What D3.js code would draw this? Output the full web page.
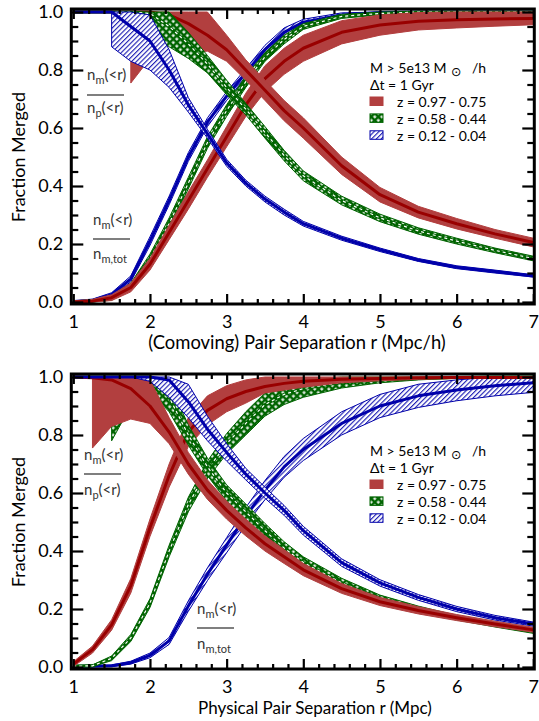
<!DOCTYPE html>
<meta charset="utf-8">
<style>
    body { margin: 0; background: #fff; }
    text { font-family: Lato, "Open Sans", sans-serif; }
    .axis path, .axis line { fill: none; stroke: #000; }
</style>
<body>
<script src="https://d3js.org/d3.v7.min.js"></script>
<script>

    // separation grid (Mpc/h comoving on top, Mpc physical below)
    var r = [1, 1.25, 1.5, 1.75, 2, 2.25, 2.5, 2.75, 3, 3.25, 3.5, 3.75, 4, 4.5, 5, 5.5, 6, 6.5, 7];

    var xTickLabels = ["1", "2", "3", "4", "5", "6", "7"];
    var yTickLabels = ["0.0", "0.2", "0.4", "0.6", "0.8", "1.0"];
    var legendLabels = ["z = 0.97 - 0.75", "z = 0.58 - 0.44", "z = 0.12 - 0.04"];

    // comoving, n_m(<r)/n_m,tot
    var comBlueCum    = [0, 0.005, 0.025, 0.08, 0.21, 0.35, 0.50, 0.62, 0.71, 0.79, 0.87, 0.93, 0.965, 0.99, 0.998, 1, 1, 1, 1];
    var comBlueCumLo  = [0, 0, 0.018, 0.07, 0.195, 0.335, 0.485, 0.605, 0.695, 0.775, 0.855, 0.915, 0.955, 0.985, 0.995, 0.998, 1, 1, 1];
    var comBlueCumHi  = [0.005, 0.01, 0.032, 0.09, 0.225, 0.365, 0.515, 0.635, 0.725, 0.805, 0.885, 0.945, 0.975, 0.997, 1, 1, 1, 1, 1];
    var comGreenCum   = [0, 0.003, 0.012, 0.055, 0.15, 0.27, 0.41, 0.55, 0.66, 0.76, 0.845, 0.905, 0.95, 0.985, 0.995, 1, 1, 1, 1];
    var comGreenCumLo = [0, 0, 0.006, 0.045, 0.135, 0.25, 0.39, 0.53, 0.64, 0.74, 0.83, 0.89, 0.94, 0.978, 0.99, 0.997, 1, 1, 1];
    var comGreenCumHi = [0.004, 0.008, 0.02, 0.065, 0.165, 0.29, 0.43, 0.57, 0.68, 0.78, 0.86, 0.92, 0.96, 0.992, 1, 1, 1, 1, 1];
    var comRedCum     = [0, 0.003, 0.015, 0.05, 0.13, 0.24, 0.35, 0.46, 0.57, 0.68, 0.77, 0.83, 0.875, 0.93, 0.955, 0.968, 0.973, 0.976, 0.978];
    var comRedCumLo   = [0, 0, 0.005, 0.035, 0.11, 0.215, 0.32, 0.43, 0.535, 0.64, 0.725, 0.785, 0.83, 0.89, 0.92, 0.938, 0.945, 0.951, 0.956];
    var comRedCumHi   = [0.004, 0.009, 0.025, 0.065, 0.15, 0.265, 0.38, 0.49, 0.605, 0.72, 0.815, 0.875, 0.92, 0.97, 0.99, 0.998, 1, 1, 1];

    // comoving, n_m(<r)/n_p(<r)
    var comBluePair    = [1, 1, 1, 0.95, 0.9, 0.8, 0.68, 0.58, 0.48, 0.41, 0.355, 0.31, 0.27, 0.22, 0.18, 0.145, 0.12, 0.105, 0.09];
    var comBluePairLo  = [null, null, 0.88, 0.83, 0.8, 0.74, 0.655, 0.565, 0.468, 0.4, 0.345, 0.3, 0.262, 0.213, 0.174, 0.14, 0.115, 0.1, 0.086];
    var comBluePairHi  = [null, null, 1, 1, 0.99, 0.87, 0.705, 0.595, 0.492, 0.42, 0.365, 0.32, 0.278, 0.227, 0.186, 0.15, 0.125, 0.11, 0.094];
    var comGreenPair   = [1, 1, 1, 1, 0.995, 0.95, 0.89, 0.82, 0.74, 0.665, 0.585, 0.505, 0.435, 0.35, 0.29, 0.245, 0.21, 0.178, 0.15];
    var comGreenPairLo = [null, null, null, 1, 0.94, 0.88, 0.84, 0.79, 0.715, 0.645, 0.565, 0.487, 0.418, 0.335, 0.277, 0.234, 0.2, 0.17, 0.142];
    var comGreenPairHi = [null, null, null, 1, 1, 1, 0.93, 0.85, 0.765, 0.685, 0.605, 0.523, 0.452, 0.365, 0.303, 0.256, 0.22, 0.186, 0.158];
    var comRedPair     = [1, 1, 1, 1, 1, 0.99, 0.96, 0.92, 0.87, 0.8, 0.73, 0.66, 0.6, 0.47, 0.37, 0.31, 0.27, 0.235, 0.205];
    var comRedPairLo   = [null, null, null, 0.755, 0.84, 0.885, 0.86, 0.865, 0.83, 0.765, 0.695, 0.625, 0.565, 0.44, 0.345, 0.29, 0.252, 0.22, 0.19];
    var comRedPairHi   = [null, null, null, 1, 1, 1, 1, 1, 0.92, 0.835, 0.765, 0.695, 0.635, 0.5, 0.395, 0.33, 0.288, 0.25, 0.22];

    // physical, n_m(<r)/n_m,tot
    var phyRedCum     = [0.01, 0.06, 0.145, 0.28, 0.48, 0.66, 0.81, 0.885, 0.925, 0.95, 0.967, 0.978, 0.985, 0.992, 0.995, 0.997, 0.998, 0.998, 0.998];
    var phyRedCumLo   = [0.002, 0.048, 0.127, 0.255, 0.45, 0.62, 0.76, 0.835, 0.88, 0.91, 0.945, 0.955, 0.965, 0.98, 0.987, 0.992, 0.995, 0.996, 0.996];
    var phyRedCumHi   = [0.018, 0.072, 0.163, 0.305, 0.51, 0.70, 0.86, 0.935, 0.97, 0.99, 1, 1, 1, 1, 1, 1, 1, 1, 1];
    var phyGreenCum   = [0.003, 0.004, 0.03, 0.1, 0.22, 0.4, 0.56, 0.68, 0.77, 0.84, 0.905, 0.94, 0.96, 0.982, 0.99, 0.995, 0.998, 1, 1];
    var phyGreenCumLo = [0, 0.001, 0.022, 0.088, 0.205, 0.38, 0.535, 0.65, 0.735, 0.8, 0.865, 0.905, 0.93, 0.962, 0.98, 0.99, 0.996, 1, 1];
    var phyGreenCumHi = [0.006, 0.007, 0.038, 0.112, 0.235, 0.42, 0.585, 0.71, 0.805, 0.88, 0.945, 0.975, 0.99, 1, 1, 1, 1, 1, 1];
    var phyBlueCum    = [0.003, 0.003, 0.004, 0.015, 0.04, 0.09, 0.21, 0.32, 0.42, 0.52, 0.61, 0.69, 0.75, 0.84, 0.9, 0.935, 0.955, 0.97, 0.98];
    var phyBlueCumLo  = [0.001, 0.001, 0.001, 0.01, 0.032, 0.078, 0.192, 0.298, 0.394, 0.49, 0.577, 0.654, 0.712, 0.8, 0.86, 0.895, 0.918, 0.935, 0.947];
    var phyBlueCumHi  = [0.005, 0.005, 0.007, 0.02, 0.048, 0.102, 0.228, 0.342, 0.446, 0.55, 0.643, 0.726, 0.788, 0.88, 0.94, 0.975, 0.99, 1, 1];

    // physical, n_m(<r)/n_p(<r)
    var phyRedPair     = [1, 0.997, 0.99, 0.96, 0.9, 0.81, 0.7, 0.61, 0.54, 0.48, 0.425, 0.38, 0.335, 0.27, 0.225, 0.195, 0.17, 0.148, 0.128];
    var phyRedPairLo   = [null, 0.755, 0.83, 0.855, 0.84, 0.77, 0.665, 0.578, 0.51, 0.452, 0.4, 0.357, 0.315, 0.254, 0.212, 0.183, 0.16, 0.139, 0.12];
    var phyRedPairHi   = [null, 1, 1, 1, 0.99, 0.86, 0.74, 0.645, 0.572, 0.51, 0.452, 0.405, 0.357, 0.288, 0.24, 0.208, 0.181, 0.158, 0.137];
    var phyGreenPair   = [1, 1, 1, 1, 1, 0.93, 0.8, 0.69, 0.6, 0.535, 0.47, 0.41, 0.36, 0.29, 0.235, 0.2, 0.17, 0.145, 0.122];
    var phyGreenPairLo = [null, null, 0.78, 0.9, 0.95, 0.88, 0.765, 0.66, 0.572, 0.508, 0.445, 0.388, 0.34, 0.274, 0.222, 0.19, 0.162, 0.138, 0.116];
    var phyGreenPairHi = [null, null, 1, 1, 1, 0.98, 0.835, 0.72, 0.628, 0.562, 0.495, 0.432, 0.38, 0.306, 0.248, 0.21, 0.178, 0.152, 0.128];
    var phyBluePair    = [1, 1, 1, 1, 1, 0.99, 0.915, 0.82, 0.74, 0.665, 0.6, 0.54, 0.47, 0.36, 0.29, 0.24, 0.2, 0.17, 0.148];
    var phyBluePairLo  = [null, null, null, 1, 0.985, 0.93, 0.86, 0.78, 0.71, 0.645, 0.582, 0.523, 0.455, 0.347, 0.279, 0.23, 0.191, 0.162, 0.141];
    var phyBluePairHi  = [null, null, null, 1, 1, 1, 0.975, 0.865, 0.77, 0.685, 0.62, 0.557, 0.485, 0.373, 0.301, 0.25, 0.209, 0.178, 0.155];

    var width = 539, height = 721;

    var styles = {
        red:   { fill: "#b23f3f", edge: "#b23f3f", line: "#990000" },
        green: { fill: "url(#greenPat)", edge: "#006400", line: "#006400" },
        blue:  { fill: "url(#bluePat)", edge: "#0000aa", line: "#0000aa" }
    };

    var svg = d3.select("body").append("svg")
        .attr("width", width)
        .attr("height", height);

    var defs = svg.append("defs");

    var gp = defs.append("pattern").attr("id", "greenPat")
        .attr("patternUnits", "userSpaceOnUse")
        .attr("width", 5).attr("height", 5)
        .attr("patternTransform", "rotate(45)");
    gp.append("rect").attr("width", 5).attr("height", 5).attr("fill", "#006400");
    gp.append("rect").attr("x", 1.4).attr("y", 1.4).attr("width", 2.4).attr("height", 2.4).attr("fill", "#fff");

    var bp = defs.append("pattern").attr("id", "bluePat")
        .attr("patternUnits", "userSpaceOnUse")
        .attr("width", 3.4).attr("height", 3.4)
        .attr("patternTransform", "rotate(45)");
    bp.append("rect").attr("width", 3.4).attr("height", 3.4).attr("fill", "#fff");
    bp.append("line").attr("x1", 0.6).attr("x2", 0.6).attr("y1", 0).attr("y2", 3.4)
        .attr("stroke", "#0000aa").attr("stroke-width", 1);

    var x = d3.scaleLinear().domain([1, 7]).range([73.3, 533.3]);

    var panels = [
        {
            id: "com", yRange: [302, 12],
            title: "(Comoving) Pair Separation r (Mpc/h)", titleX: 297, titleY: 349, titleSize: 18.4,
            ytitleY: 157, legY: 73,
            ann: [{x: 87, y: 80, line: 95, y2: 113, den: "p(<r)"},
                  {x: 93, y: 225, line: 239, y2: 259, den: "m,tot"}],
            curves: [[comBlueCum, comBlueCumLo, comBlueCumHi, "blue"],
                     [comGreenCum, comGreenCumLo, comGreenCumHi, "green"],
                     [comRedCum, comRedCumLo, comRedCumHi, "red"],
                     [comRedPair, comRedPairLo, comRedPairHi, "red"],
                     [comGreenPair, comGreenPairLo, comGreenPairHi, "green"],
                     [comBluePair, comBluePairLo, comBluePairHi, "blue"]]
        },
        {
            id: "phy", yRange: [667, 377],
            title: "Physical Pair Separation r (Mpc)", titleX: 315, titleY: 714, titleSize: 17,
            ytitleY: 522, legY: 456,
            ann: [{x: 84, y: 460, line: 474, y2: 495, den: "p(<r)"},
                  {x: 197, y: 614, line: 628, y2: 649, den: "m,tot"}],
            curves: [[phyBlueCum, phyBlueCumLo, phyBlueCumHi, "blue"],
                     [phyGreenCum, phyGreenCumLo, phyGreenCumHi, "green"],
                     [phyRedCum, phyRedCumLo, phyRedCumHi, "red"],
                     [phyGreenPair, phyGreenPairLo, phyGreenPairHi, "green"],
                     [phyRedPair, phyRedPairLo, phyRedPairHi, "red"],
                     [phyBluePair, phyBluePairLo, phyBluePairHi, "blue"]]
        }
    ];

    var xMajor = d3.range(1, 8);
    var xMinor = d3.range(1, 7.001, 0.2).filter(function(d) { return Math.abs(d - Math.round(d)) > 0.01; });
    var yMajor = [0, 0.2, 0.4, 0.6, 0.8, 1.0];
    var yMinor = d3.range(0, 1.001, 0.05).filter(function(d) { return Math.abs(d * 5 - Math.round(d * 5)) > 0.01; });

    panels.forEach(function(p) {
        var y = d3.scaleLinear().domain([0, 1]).range(p.yRange);
        var g = svg.append("g");

        defs.append("clipPath").attr("id", "clip-" + p.id)
            .append("rect")
            .attr("x", x(1)).attr("y", y(1) - 2)
            .attr("width", x(7) - x(1)).attr("height", y(0) - y(1) + 3);

        var plot = g.append("g").attr("clip-path", "url(#clip-" + p.id + ")");

        var area = d3.area()
            .defined(function(d) { return d.lo !== null; })
            .x(function(d) { return x(d.r); })
            .y0(function(d) { return y(d.lo); })
            .y1(function(d) { return y(d.hi); });

        var line = d3.line()
            .x(function(d) { return x(d.r); })
            .y(function(d) { return y(d.mid); });

        p.curves.forEach(function(c) {
            var rows = r.map(function(v, i) {
                return {r: v, mid: c[0][i], lo: c[1][i], hi: c[2][i]};
            });
            var s = styles[c[3]];
            plot.append("path").datum(rows)
                .attr("d", area)
                .attr("fill", s.fill)
                .attr("stroke", s.edge)
                .attr("stroke-width", 1);
            plot.append("path").datum(rows)
                .attr("d", line)
                .attr("fill", "none")
                .attr("stroke", s.line)
                .attr("stroke-width", 3)
                .attr("stroke-linejoin", "round");
            if (c[3] === "green") {
                plot.append("path").datum(rows)
                    .attr("d", line)
                    .attr("fill", "none")
                    .attr("stroke", "#fff")
                    .attr("stroke-width", 1.2)
                    .attr("stroke-dasharray", "3,3");
            }
        });

        // axes, ticks pointing inwards
        var x0 = x(1) - 2, x1 = x(7) + 1, yb = y(0) + 2, yt = y(1) - 3;

        g.append("g").attr("class", "axis")
            .attr("transform", "translate(0," + yb + ")")
            .call(d3.axisBottom(x).tickValues(xMajor).tickSize(-10).tickPadding(11)
                .tickFormat(function(d, i) { return xTickLabels[i]; }))
            .call(function(a) { a.select(".domain").remove(); });
        g.append("g").attr("class", "axis")
            .attr("transform", "translate(0," + yb + ")")
            .call(d3.axisBottom(x).tickValues(xMinor).tickSize(-5).tickFormat(""))
            .call(function(a) { a.select(".domain").remove(); });
        g.append("g").attr("class", "axis")
            .attr("transform", "translate(0," + yt + ")")
            .call(d3.axisTop(x).tickValues(xMajor).tickSize(-10).tickFormat(""))
            .call(function(a) { a.select(".domain").remove(); });
        g.append("g").attr("class", "axis")
            .attr("transform", "translate(0," + yt + ")")
            .call(d3.axisTop(x).tickValues(xMinor).tickSize(-5).tickFormat(""))
            .call(function(a) { a.select(".domain").remove(); });

        g.append("g").attr("class", "axis")
            .attr("transform", "translate(" + x0 + ",0)")
            .call(d3.axisLeft(y).tickValues(yMajor).tickSize(-12).tickPadding(8)
                .tickFormat(function(d, i) { return yTickLabels[i]; }))
            .call(function(a) { a.select(".domain").remove(); });
        g.append("g").attr("class", "axis")
            .attr("transform", "translate(" + x0 + ",0)")
            .call(d3.axisLeft(y).tickValues(yMinor).tickSize(-7).tickFormat(""))
            .call(function(a) { a.select(".domain").remove(); });
        g.append("g").attr("class", "axis")
            .attr("transform", "translate(" + x1 + ",0)")
            .call(d3.axisRight(y).tickValues(yMajor).tickSize(-12).tickFormat(""))
            .call(function(a) { a.select(".domain").remove(); });
        g.append("g").attr("class", "axis")
            .attr("transform", "translate(" + x1 + ",0)")
            .call(d3.axisRight(y).tickValues(yMinor).tickSize(-7).tickFormat(""))
            .call(function(a) { a.select(".domain").remove(); });

        g.selectAll(".axis line").attr("stroke-width", 2.2);
        g.selectAll(".axis text").attr("font-size", 18).attr("fill", "#000")
            .style("font-family", "Lato, 'Open Sans', sans-serif");

        g.append("rect")
            .attr("x", x0).attr("y", yt)
            .attr("width", x1 - x0).attr("height", yb - yt)
            .attr("fill", "none").attr("stroke", "#000").attr("stroke-width", 3);

        // axis titles
        g.append("text")
            .attr("x", p.titleX).attr("y", p.titleY)
            .attr("text-anchor", "middle").attr("font-size", p.titleSize)
            .text(p.title);
        g.append("text")
            .attr("transform", "translate(25," + p.ytitleY + ") rotate(-90)")
            .attr("text-anchor", "middle").attr("font-size", 18)
            .text("Fraction Merged");

        // ratio annotations
        p.ann.forEach(function(a) {
            var t = g.append("text").attr("x", a.x).attr("y", a.y)
                .attr("font-size", 15).attr("fill", "#333");
            t.append("tspan").text("n");
            t.append("tspan").attr("dy", 4).attr("font-size", 11).text("m");
            t.append("tspan").attr("dy", -4).text("(<r)");
            g.append("line")
                .attr("x1", a.x).attr("x2", a.x + 37)
                .attr("y1", a.line).attr("y2", a.line)
                .attr("stroke", "#555").attr("stroke-width", 1.3);
            var b = g.append("text").attr("x", a.x).attr("y", a.y2)
                .attr("font-size", 15).attr("fill", "#333");
            b.append("tspan").text("n");
            if (a.den === "p(<r)") {
                b.append("tspan").attr("dy", 4).attr("font-size", 11).text("p");
                b.append("tspan").attr("dy", -4).text("(<r)");
            } else {
                b.append("tspan").attr("dy", 4).attr("font-size", 11).text("m,tot");
            }
        });

        // legend
        var lx = 370, ly = p.legY;
        var h1 = g.append("text").attr("x", lx).attr("y", ly).attr("font-size", 14);
        h1.append("tspan").text("M > 5e13 M");
        h1.append("tspan").attr("x", 451).attr("dy", 3).attr("font-size", 12.5)
            .style("font-family", "'DejaVu Sans', sans-serif").text("\u2299");
        h1.append("tspan").attr("x", 472).attr("dy", -3).text("/h");
        g.append("text").attr("x", lx).attr("y", ly + 17).attr("font-size", 14)
            .text("\u0394t = 1 Gyr");

        var keys = ["red", "green", "blue"];
        keys.forEach(function(k, i) {
            var yy = ly + 34 + i * 16.9;
            g.append("rect")
                .attr("x", lx).attr("y", yy - 10)
                .attr("width", 13).attr("height", 8.5)
                .attr("fill", styles[k].fill)
                .attr("stroke", styles[k].edge).attr("stroke-width", 1);
            g.append("text").attr("x", lx + 27).attr("y", yy)
                .attr("font-size", 14).text(legendLabels[i]);
        });
    });

</script>
